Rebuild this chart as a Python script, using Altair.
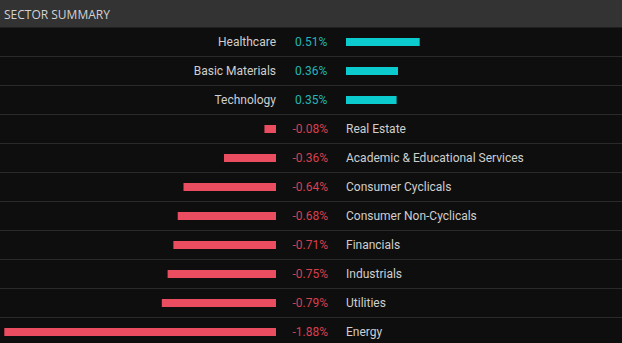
import altair as alt
import pandas as pd

sectors = ["Healthcare", "Basic Materials", "Technology", "Real Estate",
           "Academic & Educational Services", "Consumer Cyclicals",
           "Consumer Non-Cyclicals", "Financials", "Industrials", "Utilities", "Energy"]
changes = [0.51, 0.36, 0.35, -0.08, -0.36, -0.64, -0.68, -0.71, -0.75, -0.79, -1.88]
title_text = "SECTOR SUMMARY"

W, H = 622, 343
ROW = 29.0
FIRST = 42.0

df = pd.DataFrame({
    "sector": sectors,
    "change": changes,
    "row": list(range(len(sectors))),
})
df["label"] = [f"{v:.2f}%" for v in changes]
df["zero"] = 0.0

seps = pd.DataFrame({"sep": [i + 0.5 for i in range(len(sectors) - 1)]})

d0 = -FIRST / ROW
d1 = d0 + H / ROW
xs = alt.Scale(domain=[-2.152, 2.152], nice=False, zero=False, padding=0)
ys = alt.Scale(domain=[d0, d1], nice=False, zero=False, reverse=True, padding=0)

X = lambda f: alt.X(f, type="quantitative", scale=xs, axis=None)
Y = alt.Y("row:Q", scale=ys, axis=None)

base = alt.Chart(df)
pos = base.transform_filter("datum.change >= 0")
neg = base.transform_filter("datum.change < 0")

FONT = "Roboto"
FS = 12
TEAL = "#0ccbce"
RED = "#ea4c60"
TEAL_T = "#22b6ba"
RED_T = "#d8404f"
TXT = "#cfcfcf"

header = alt.Chart(pd.DataFrame({"t": [title_text]})).mark_rect(color="#333333").encode(
    x=alt.value(0), x2=alt.value(W), y=alt.value(0), y2=alt.value(27.5))
header_txt = alt.Chart(pd.DataFrame({"t": [title_text]})).mark_text(
    align="left", baseline="middle", font="Open Sans", fontSize=12, color="#d2d2d2").encode(
    x=alt.value(4), y=alt.value(14.5), text="t:N")

sep_rules = alt.Chart(seps).mark_rule(color="#2a2a2a", strokeWidth=1).encode(
    y=alt.Y("sep:Q", scale=ys, axis=None), x=alt.value(0), x2=alt.value(W))

pos_bar = pos.mark_bar(color=TEAL, size=8, xOffset=35, x2Offset=35).encode(
    x=X("zero"), x2="change:Q", y=Y)
neg_bar = neg.mark_bar(color=RED, size=8, xOffset=-35, x2Offset=-35).encode(
    x=X("change"), x2="zero:Q", y=Y)

pos_val = pos.mark_text(align="left", baseline="middle", font=FONT, fontSize=FS,
                        color=TEAL_T, dx=-16).encode(x=X("zero"), y=Y, text="label:N")
neg_val = neg.mark_text(align="right", baseline="middle", font=FONT, fontSize=FS,
                        color=RED_T, dx=17).encode(x=X("zero"), y=Y, text="label:N")
pos_cat = pos.mark_text(align="right", baseline="middle", font=FONT, fontSize=FS,
                        color=TXT, dx=-35).encode(x=X("zero"), y=Y, text="sector:N")
neg_cat = neg.mark_text(align="left", baseline="middle", font=FONT, fontSize=FS,
                        color=TXT, dx=35).encode(x=X("zero"), y=Y, text="sector:N")

chart = alt.layer(header, header_txt, sep_rules, pos_bar, neg_bar,
                  pos_val, neg_val, pos_cat, neg_cat).properties(
    width=W, height=H, background="#0e0e0e", padding=0,
    autosize=alt.AutoSizeParams(type="none")
).configure_view(stroke=None, fill="#0e0e0e")

chart.save("out.html", embed_options={"renderer": "svg", "actions": False})
